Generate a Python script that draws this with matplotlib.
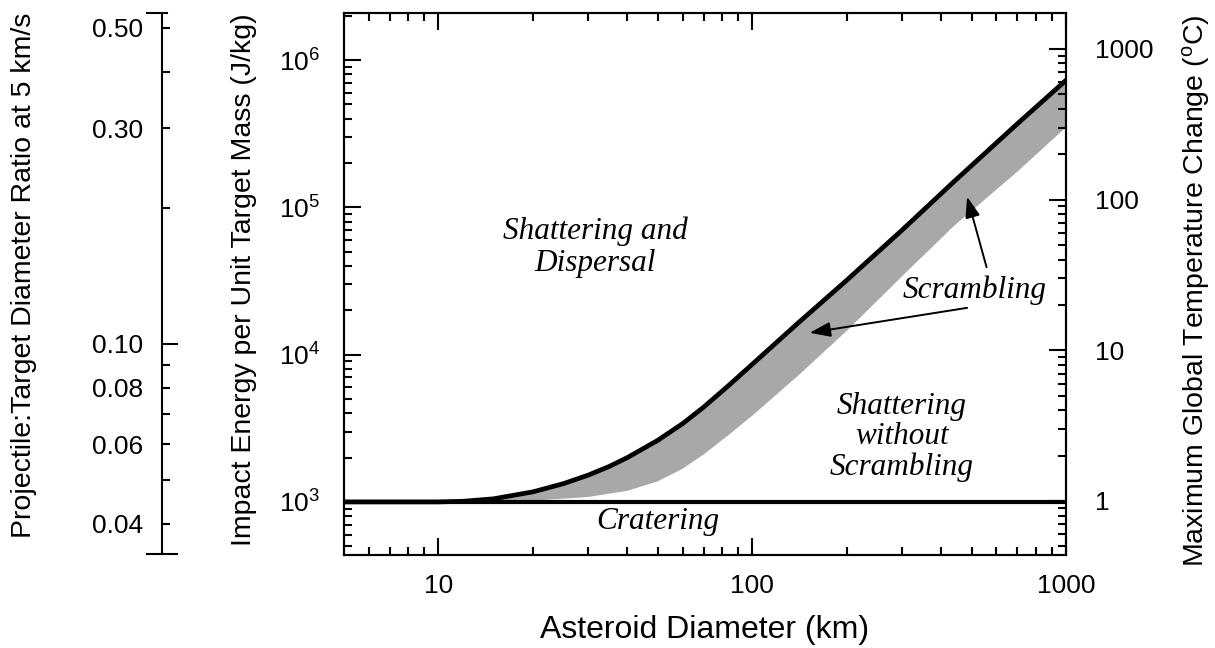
import numpy as np
import matplotlib
matplotlib.use("Agg")
import matplotlib.pyplot as plt
from matplotlib import ticker
from matplotlib.lines import Line2D

plt.rcParams['font.family'] = ['Liberation Sans', 'DejaVu Sans']
plt.rcParams['mathtext.fontset'] = 'custom'
plt.rcParams['mathtext.rm'] = 'Liberation Sans'
plt.rcParams['mathtext.it'] = 'Liberation Sans:italic'
plt.rcParams['mathtext.bf'] = 'Liberation Sans:bold'

# upper edge of scrambling band (shattering + dispersal threshold)
diam_upper = [5, 10, 12, 15, 20, 25, 30, 35, 40, 50, 60, 70, 85, 100,
              140, 200, 300, 440, 700, 1000]
energy_upper = [1000, 1000, 1010, 1050, 1170, 1330, 1520, 1740, 2000, 2620,
                3400, 4400, 6300, 8600, 16400, 32000, 70000, 150000, 370000, 730000]

# lower edge of scrambling band
diam_lower = [12, 20, 30, 40, 50, 60, 70, 85, 100, 140, 200, 300, 440, 700, 1000]
energy_lower = [1000, 1020, 1080, 1190, 1380, 1680, 2100, 2900, 3850, 7200,
                14500, 34000, 75000, 175000, 350000]

# cratering / shattering threshold
crater_energy = 1000

x_ticks = [10, 100, 1000]
temp_ticks = [1, 10, 100, 1000]
ratio_major = [0.1]
ratio_minor = [0.04, 0.05, 0.06, 0.07, 0.08, 0.09, 0.2, 0.3, 0.4, 0.5]
ratio_labelled = [0.04, 0.06, 0.08, 0.3, 0.5]

W, H = 1215, 648
fig = plt.figure(figsize=(W / 100, H / 100), dpi=100)

left, right, top, bottom = 344, 1066, 13, 555
ax = fig.add_axes([left / W, 1 - bottom / H, (right - left) / W, (bottom - top) / H])
ax.set_xscale('log')
ax.set_yscale('log')
ax.set_xlim(5, 1000)
ax.set_ylim(436, 2.09e6)

# band between the two curves
band_x = diam_upper[2:] + diam_lower[::-1]
band_y = energy_upper[2:] + energy_lower[::-1]
ax.fill(band_x, band_y, color='#a8a8a8', lw=0)
ax.plot(diam_upper, energy_upper, color='black', lw=3.4, solid_joinstyle='round')
ax.axhline(crater_energy, color='black', lw=3.0)

for s in ax.spines.values():
    s.set_linewidth(1.5)

ax.xaxis.set_major_locator(ticker.FixedLocator(x_ticks))
ax.xaxis.set_major_formatter(ticker.FuncFormatter(lambda v, p: '%g' % v))
ax.xaxis.set_minor_formatter(ticker.NullFormatter())
ax.yaxis.set_major_formatter(ticker.LogFormatterMathtext())
ax.yaxis.set_minor_formatter(ticker.NullFormatter())
ax.tick_params(which='both', direction='in', top=True, right=False, width=1.5, labelsize=19)
ax.tick_params(which='major', length=12)
ax.tick_params(which='minor', length=5.5)
ax.tick_params(axis='x', pad=14)
ax.tick_params(axis='y', pad=17)

# temperature axis on the right
ax2 = ax.twinx()
ax2.set_yscale('log')
ax2.set_ylim(0.438, 1730)
ax2.yaxis.set_major_locator(ticker.FixedLocator(temp_ticks))
ax2.yaxis.set_major_formatter(ticker.FuncFormatter(lambda v, p: '%g' % v))
ax2.yaxis.set_minor_formatter(ticker.NullFormatter())
ax2.tick_params(which='both', direction='in', width=1.5, labelsize=19, pad=21)
ax2.tick_params(which='major', length=12)
ax2.tick_params(which='minor', length=6)
for s in ax2.spines.values():
    s.set_linewidth(1.5)

# projectile:target ratio axis on the far left
ax3 = fig.add_axes([162 / W, 1 - 554 / H, 0.02, (554 - 13) / H])
ax3.set_yscale('log')
ax3.set_ylim(0.0343, 0.5397)
ax3.patch.set_visible(False)
for name in ['right', 'top', 'bottom']:
    ax3.spines[name].set_visible(False)
ax3.spines['left'].set_linewidth(1.5)
ax3.set_xticks([])
ax3.yaxis.set_major_locator(ticker.FixedLocator(ratio_major))
ax3.yaxis.set_major_formatter(ticker.FuncFormatter(lambda v, p: '%.2f' % v))
ax3.yaxis.set_minor_locator(ticker.FixedLocator(ratio_minor))
ax3.yaxis.set_minor_formatter(ticker.FuncFormatter(
    lambda v, p: '%.2f' % v if any(abs(v - r) < 1e-9 for r in ratio_labelled) else ''))
ax3.tick_params(axis='y', which='both', direction='in', width=1.5, labelsize=19, pad=13.5)
ax3.tick_params(axis='y', which='major', length=11.5)
ax3.tick_params(axis='y', which='minor', length=5.5)
fig.add_artist(Line2D([147 / W, 167 / W], [1 - 13 / H] * 2, color='black', lw=1.5))
fig.add_artist(Line2D([147 / W, 177 / W], [1 - 554 / H] * 2, color='black', lw=1.5))

# axis labels
ax.set_xlabel('Asteroid Diameter (km)', fontsize=23, labelpad=12)
fig.text(24 / W, 1 - 275 / H, 'Projectile:Target Diameter Ratio at 5 km/s',
         rotation=90, ha='center', va='center', fontsize=20.5)
fig.text(244 / W, 1 - 280 / H, 'Impact Energy per Unit Target Mass (J/kg)',
         rotation=90, ha='center', va='center', fontsize=20.5)
fig.text(1196 / W, 1 - 291 / H, r'Maximum Global Temperature Change ($^{\rm o}$C)',
         rotation=90, ha='center', va='center', fontsize=20.5)

# region annotations
serif = dict(family='Liberation Serif', style='italic', fontsize=22.5,
             ha='center', va='center', transform=ax.transAxes)
ax.text(0.348, 0.568, 'Shattering and\nDispersal', linespacing=1.15, **serif)
ax.text(0.773, 0.218, 'Shattering\nwithout\nScrambling', linespacing=1.05, **serif)
ax.text(0.435, 0.061, 'Cratering', **serif)
ax.text(0.874, 0.489, 'Scrambling', **serif)

arrow = dict(arrowstyle='-|>,head_length=0.7,head_width=0.25', color='black',
             lw=1.4, mutation_scale=18, shrinkA=0, shrinkB=0)
ax.annotate('', xy=(0.863, 0.661), xytext=(0.890, 0.531),
            xycoords='axes fraction', textcoords='axes fraction', arrowprops=arrow)
ax.annotate('', xy=(0.645, 0.410), xytext=(0.863, 0.456),
            xycoords='axes fraction', textcoords='axes fraction', arrowprops=arrow)

fig.savefig('out.png', dpi=100)
